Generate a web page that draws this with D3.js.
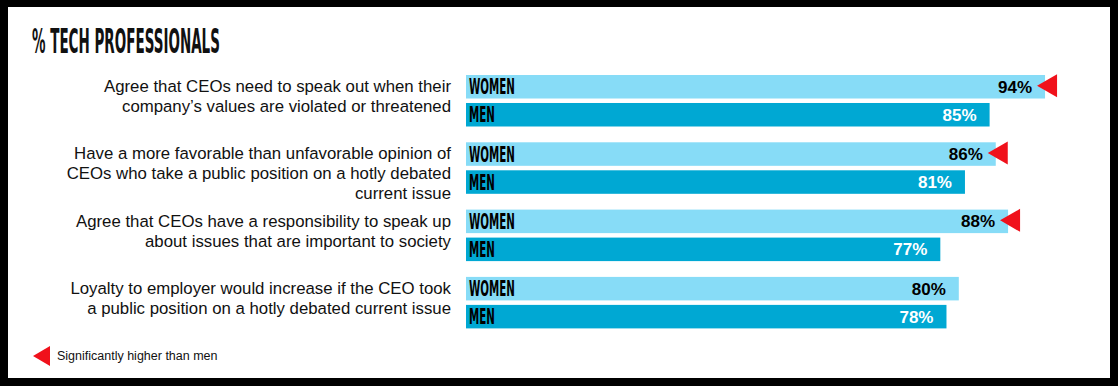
<!DOCTYPE html>
<html>
<head>
<meta charset="utf-8">
<script src="https://cdn.jsdelivr.net/npm/d3@7"></script>
<style>
  body { margin: 0; background: #fff; }
  svg { display: block; }
</style>
</head>
<body>
<div id="chart"></div>
<script>
////////////////////
// DATA
var title = "% TECH PROFESSIONALS";
var categories = [
  ["Agree that CEOs need to speak out when their", "company’s values are violated or threatened"],
  ["Have a more favorable than unfavorable opinion of", "CEOs who take a public position on a hotly debated", "current issue"],
  ["Agree that CEOs have a responsibility to speak up", "about issues that are important to society"],
  ["Loyalty to employer would increase if the CEO took", "a public position on a hotly debated current issue"]
];
var series = ["WOMEN", "MEN"];
var women = [94, 86, 88, 80];
var men = [85, 81, 77, 78];
var womenHigher = [true, true, true, false];
var legendText = "Significantly higher than men";

////////////////////
// SETUP
var w = 1118;
var h = 386;
var colors = { WOMEN: "#87dcf7", MEN: "#00a8d3" };
var red = "#f0111b";
var condensed = "'DejaVu Sans Condensed', 'DejaVu Sans', sans-serif";
var sans = "'Liberation Sans', Arial, Helvetica, sans-serif";

var svg = d3.select("#chart")
  .append("svg")
  .attr("width", w)
  .attr("height", h);

// black frame
svg.append("rect").attr("width", w).attr("height", h).attr("fill", "#000");
svg.append("rect")
  .attr("x", 8).attr("y", 7)
  .attr("width", 1102).attr("height", 371)
  .attr("fill", "#fff");

var x = d3.scaleLinear().domain([0, 100]).range([466, 1082]);
var y = d3.scaleBand().domain(d3.range(categories.length)).range([75, 344.2]);
var inner = d3.scaleBand().domain(series).range([0, 51.5]).paddingInner(0.16);
var bw = inner.bandwidth();

// squeeze a text horizontally to a given width
function squeeze(sel, width) {
  sel.each(function() {
    var len = this.getComputedTextLength();
    var tx = +d3.select(this).attr("x");
    d3.select(this).attr("transform",
      "translate(" + tx + ",0) scale(" + (width / len) + ",1) translate(" + (-tx) + ",0)");
  });
}

////////////////////
// TITLE
svg.append("text")
  .attr("x", 32).attr("y", 53)
  .attr("font-family", condensed)
  .attr("font-weight", "bold")
  .attr("font-size", 34)
  .attr("fill", "#111")
  .text(title)
  .call(squeeze, 188);

////////////////////
// CATEGORY LABELS
var labels = svg.append("g").selectAll("text")
  .data(categories)
  .enter().append("text")
  .attr("font-family", sans)
  .attr("font-size", 16.8)
  .attr("fill", "#111")
  .attr("text-anchor", "end");

labels.selectAll("tspan")
  .data(function(d, i) { return d.map(function(line) { return { line: line, i: i }; }); })
  .enter().append("tspan")
  .attr("x", 451)
  .attr("y", function(d, j) { return y(d.i) + 17 + j * 20; })
  .text(function(d) { return d.line; });

////////////////////
// BARS
var rows = [];
categories.forEach(function(c, i) {
  rows.push({ i: i, s: "WOMEN", v: women[i], sig: womenHigher[i] });
  rows.push({ i: i, s: "MEN", v: men[i], sig: false });
});

var g = svg.append("g").selectAll("g")
  .data(rows)
  .enter().append("g")
  .attr("transform", function(d) { return "translate(0," + (y(d.i) + inner(d.s)) + ")"; });

g.append("rect")
  .attr("x", x(0))
  .attr("width", function(d) { return x(d.v) - x(0); })
  .attr("height", bw)
  .attr("fill", function(d) { return colors[d.s]; });

g.append("text")
  .attr("class", "series")
  .attr("x", 469)
  .attr("y", bw / 2 + 7.5)
  .attr("font-family", condensed)
  .attr("font-weight", "bold")
  .attr("font-size", 21)
  .attr("fill", "#000")
  .text(function(d) { return d.s; });

var sq = 0;
g.selectAll("text.series").each(function(d) {
  if (d.s === "WOMEN" && !sq) sq = 46 / this.getComputedTextLength();
});
g.selectAll("text.series").each(function() {
  d3.select(this).attr("transform", "translate(469,0) scale(" + sq + ",1) translate(-469,0)");
});

g.append("text")
  .attr("x", function(d) { return x(d.v) - 13; })
  .attr("y", bw / 2 + 6)
  .attr("text-anchor", "end")
  .attr("font-family", sans)
  .attr("font-weight", "bold")
  .attr("font-size", 17)
  .attr("fill", function(d) { return d.s === "WOMEN" ? "#000" : "#fff"; })
  .text(function(d) { return d.v + "%"; });

// significance arrows
g.filter(function(d) { return d.sig; })
  .append("path")
  .attr("d", function(d) {
    var tip = x(d.v) - 8, c = bw / 2 - 1;
    return "M" + tip + "," + c + "L" + (tip + 20) + "," + (c - 11.5) + "L" + (tip + 20) + "," + (c + 11.5) + "Z";
  })
  .attr("fill", red);

////////////////////
// LEGEND
svg.append("path")
  .attr("d", "M33,356L50,346L50,366Z")
  .attr("fill", red);
svg.append("text")
  .attr("x", 57).attr("y", 360)
  .attr("font-family", sans)
  .attr("font-size", 12.5)
  .attr("fill", "#111")
  .text(legendText);
</script>
</body>
</html>
